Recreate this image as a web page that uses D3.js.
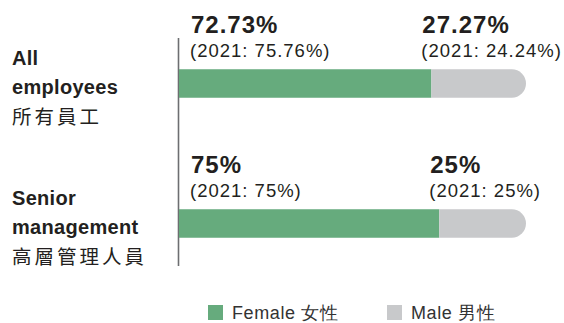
<!DOCTYPE html>
<html>
<head>
<meta charset="utf-8">
<script src="https://cdn.jsdelivr.net/npm/d3@7/dist/d3.min.js"></script>
<style>
  html, body { margin: 0; padding: 0; background: #fff; }
  svg { display: block; font-family: "Liberation Sans", Arial, Helvetica, sans-serif; }
</style>
</head>
<body>
<svg id="chart" width="564" height="323"></svg>
<script>
// Gender split by staff group, 2022 with 2021 comparison
const categories = ["All employees", "Senior management"];
const labelLines = [["All", "employees", "所有員工"], ["Senior", "management", "高層管理人員"]];
const female = [72.73, 75];
const male = [27.27, 25];
const female2021 = ["75.76%", "75%"];
const male2021 = ["24.24%", "25%"];
const femaleLabels = ["72.73%", "75%"];
const maleLabels = ["27.27%", "25%"];
const legendItems = ["Female 女性", "Male 男性"];

const GREEN = "#66ab7d";
const GREY = "#c8c9cb";
const TEXT = "#231f20";

const svg = d3.select("#chart");

const x = d3.scaleLinear().domain([0, 100]).range([179, 526]);
const y = d3.scalePoint().domain(categories).range([83.5, 223.5]);
const barH = 28.5;

// vertical baseline axis
svg.append("line")
  .attr("x1", 178.5).attr("x2", 178.5)
  .attr("y1", 38).attr("y2", 266)
  .attr("stroke", "#6d6e71").attr("stroke-width", 1.6);

const groups = svg.selectAll("g.row")
  .data(categories)
  .join("g")
  .attr("class", "row");

// female segment (square ends)
groups.append("rect")
  .attr("x", x(0))
  .attr("y", d => y(d) - barH / 2)
  .attr("width", (d, i) => x(female[i]) - x(0))
  .attr("height", barH)
  .attr("fill", GREEN);

// male segment with rounded right end
groups.append("path")
  .attr("fill", GREY)
  .attr("d", (d, i) => {
    const x0 = x(female[i]);
    const x1 = x(female[i] + male[i]);
    const top = y(d) - barH / 2, r = barH / 2;
    return `M${x0},${top}H${x1 - r}A${r},${r} 0 0 1 ${x1 - r},${top + barH}H${x0}Z`;
  });

// value labels
groups.append("text")
  .attr("x", x(0) + 12)
  .attr("y", d => y(d) - 50.5)
  .attr("font-size", 24).attr("font-weight", "bold")
  .attr("letter-spacing", 1)
  .attr("fill", TEXT)
  .text((d, i) => femaleLabels[i]);

groups.append("text")
  .attr("x", x(0) + 11)
  .attr("y", d => y(d) - 26.5)
  .attr("font-size", 18.5)
  .attr("letter-spacing", 1)
  .attr("fill", TEXT)
  .text((d, i) => `(2021: ${female2021[i]})`);

groups.append("text")
  .attr("x", (d, i) => x(female[i]) - 9)
  .attr("y", d => y(d) - 50.5)
  .attr("font-size", 24).attr("font-weight", "bold")
  .attr("letter-spacing", 1)
  .attr("fill", TEXT)
  .text((d, i) => maleLabels[i]);

groups.append("text")
  .attr("x", (d, i) => x(female[i]) - 10)
  .attr("y", d => y(d) - 26.5)
  .attr("font-size", 18.5)
  .attr("letter-spacing", 1)
  .attr("fill", TEXT)
  .text((d, i) => `(2021: ${male2021[i]})`);

// category labels
groups.each(function (d, i) {
  const g = d3.select(this);
  const base = y(d) - 19;
  labelLines[i].forEach((line, j) => {
    const cjk = j === 2;
    g.append("text")
      .attr("x", 12)
      .attr("y", base + j * 29.5)
      .attr("font-size", cjk ? 19.5 : 20)
      .attr("font-weight", cjk ? "normal" : "bold")
      .attr("font-family", cjk ? "'Noto Sans CJK TC', sans-serif" : null)
      .attr("letter-spacing", cjk ? 3 : 0.3)
      .attr("fill", TEXT)
      .text(line);
  });
});

// legend
const legendColors = [GREEN, GREY];
const legendX = [208, 387];
const legend = svg.selectAll("g.legend")
  .data(legendItems)
  .join("g")
  .attr("class", "legend")
  .attr("transform", (d, i) => `translate(${legendX[i]},305)`);

legend.append("rect")
  .attr("width", 15).attr("height", 15)
  .attr("fill", (d, i) => legendColors[i]);

legend.append("text")
  .attr("x", 24).attr("y", 14)
  .attr("font-size", 18)
  .attr("letter-spacing", 0.6)
  .attr("fill", "#333")
  .text(d => d);
</script>
</body>
</html>
